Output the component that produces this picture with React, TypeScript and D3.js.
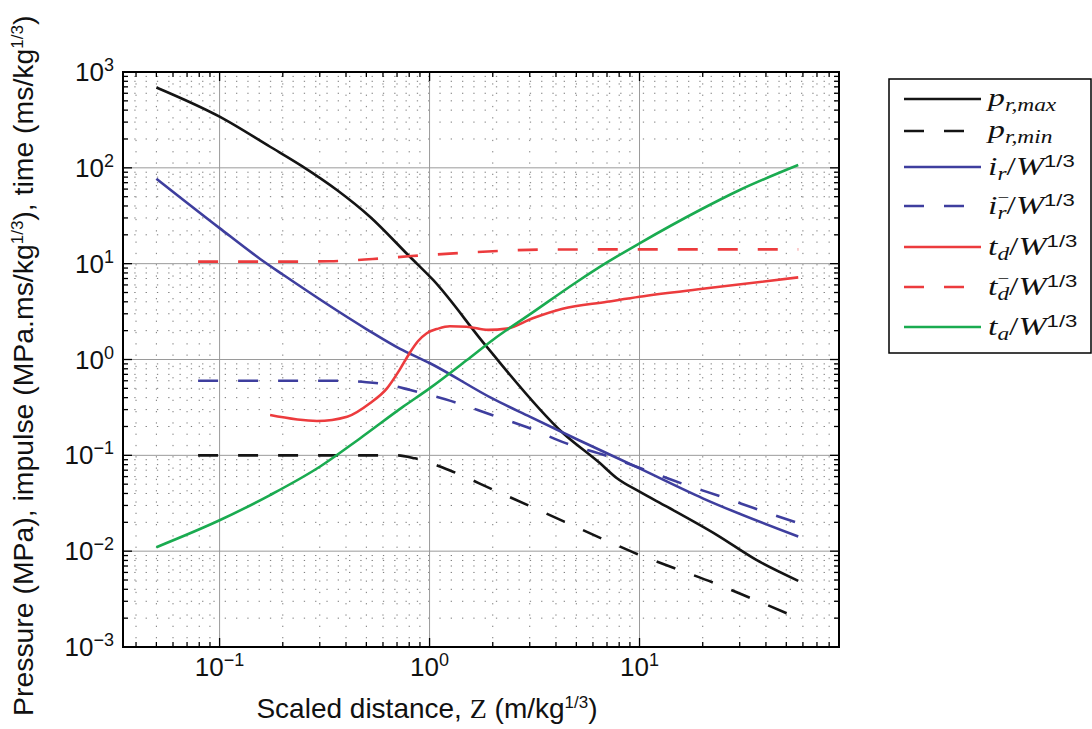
import React from "react";
import * as d3 from "d3";

// ---------- DATA (Z in m/kg^1/3, values) ----------
const pMax: [number, number][] = [
  [0.05, 690], [0.1, 342], [0.174, 166], [0.249, 103], [0.362, 58.7],
  [0.52, 30.9], [0.806, 11.8], [1.04, 6.76], [1.87, 1.36], [4.33, 0.17],
  [6.47, 0.083], [7.78, 0.058], [10, 0.0417], [13.5, 0.0291], [23.3, 0.0148], [36, 0.0081], [57, 0.0049],
];
const pMin: [number, number][] = [
  [0.079, 0.1], [0.2, 0.1], [0.4, 0.1], [0.7, 0.1], [0.85, 0.093], [1.26, 0.069], [2, 0.044],
  [3.5, 0.0254], [6.84, 0.0131], [9.8, 0.0093], [15.1, 0.0065], [22.4, 0.0047], [34.3, 0.0032], [57, 0.002],
];
const iR: [number, number][] = [
  [0.05, 77], [0.1, 23.5], [0.156, 11.2], [0.2, 7.7], [0.5, 2.08], [0.72, 1.3], [1, 0.92],
  [2, 0.39], [3, 0.253], [5, 0.148], [10, 0.073], [20, 0.0356], [57, 0.0142],
];
const iRneg: [number, number][] = [
  [0.079, 0.6], [0.2, 0.6], [0.35, 0.6], [0.5, 0.58], [0.65, 0.54], [0.81, 0.48], [1.26, 0.37],
  [1.92, 0.27], [2.92, 0.196], [4.45, 0.134], [6.84, 0.1], [16, 0.0506], [24.3, 0.0373], [36.9, 0.0271], [57, 0.0196],
];
const tD: [number, number][] = [
  [0.174, 0.263], [0.291, 0.228], [0.405, 0.253], [0.52, 0.35], [0.627, 0.5], [0.72, 0.78],
  [0.8, 1.15], [0.88, 1.55], [0.97, 1.88], [1.1, 2.1], [1.25, 2.22], [1.5, 2.2], [1.9, 2.04],
  [2.33, 2.1], [3.1, 2.69], [4.3, 3.38], [7, 4.0], [10, 4.52], [20.9, 5.53], [57, 7.2],
];
const tDneg: [number, number][] = [
  [0.079, 10.5], [0.2, 10.5], [0.335, 10.6], [0.537, 11.2], [0.82, 12.0], [1.3, 12.8],
  [2, 13.5], [3.3, 14.0], [10, 14.1], [57, 14.1],
];
const tA: [number, number][] = [
  [0.05, 0.011], [0.1, 0.021], [0.174, 0.0385], [0.3, 0.076], [0.466, 0.15], [0.746, 0.32],
  [1, 0.5], [1.5, 0.98], [2, 1.6], [3.1, 3.1], [5, 6.4], [7, 10.3], [10, 16.3],
  [19.4, 36.3], [30, 58.7], [57, 107],
];

const xExponents = [-1, 0, 1];
const yExponents = [-3, -2, -1, 0, 1, 2, 3];

const BLACK = "#141414";
const BLUE = "#3e3e9e";
const RED = "#ec3b3d";
const GREEN = "#1aab50";

type Series = {
  data: [number, number][];
  color: string;
  dashed: boolean;
  main: string;
  sub: string;
  minus: boolean;
  perW: boolean;
};

const series: Series[] = [
  { data: pMax, color: BLACK, dashed: false, main: "p", sub: "r,max", minus: false, perW: false },
  { data: pMin, color: BLACK, dashed: true, main: "p", sub: "r,min", minus: false, perW: false },
  { data: iR, color: BLUE, dashed: false, main: "i", sub: "r", minus: false, perW: true },
  { data: iRneg, color: BLUE, dashed: true, main: "i", sub: "r", minus: true, perW: true },
  { data: tD, color: RED, dashed: false, main: "t", sub: "d", minus: false, perW: true },
  { data: tDneg, color: RED, dashed: true, main: "t", sub: "d", minus: true, perW: true },
  { data: tA, color: GREEN, dashed: false, main: "t", sub: "a", minus: false, perW: true },
];

export default function App() {
  const W = 1092, H = 729;
  const left = 123, right = 839, top = 72, bottom = 647;
  const x = d3.scaleLog().domain([Math.pow(10, -1.46), Math.pow(10, 1.95)]).range([left, right]);
  const y = d3.scaleLog().domain([1e-3, 1e3]).range([bottom, top]);
  const [x0, x1] = x.domain();

  const line = d3
    .line<[number, number]>()
    .x((d) => x(d[0]))
    .y((d) => y(d[1]))
    .curve(d3.curveMonotoneX);

  const xMinor: number[] = [];
  for (let e = -2; e <= 1; e++) for (let k = 2; k <= 9; k++) {
    const v = k * Math.pow(10, e);
    if (v > x0 && v < x1) xMinor.push(v);
  }
  const yMinor: number[] = [];
  for (let e = -3; e <= 2; e++) for (let k = 2; k <= 9; k++) yMinor.push(k * Math.pow(10, e));

  const sans = "'Liberation Sans', Arial, Helvetica, sans-serif";
  const serif = "'Liberation Serif', 'Times New Roman', serif";

  const legendRows = [99, 131, 167, 206, 247, 287, 327];

  return (
    <svg width={W} height={H} style={{ position: "absolute", left: 0, top: 0, background: "#fff" }}>
      <rect x={0} y={0} width={W} height={H} fill="#fff" />
      {/* minor grid */}
      <g stroke="#7a7a7a" strokeWidth={1} strokeDasharray="1.3 10">
        {xMinor.map((v, i) => (
          <line key={"xm" + i} x1={x(v)} x2={x(v)} y1={top} y2={bottom} />
        ))}
        {yMinor.map((v, i) => (
          <line key={"ym" + i} x1={left} x2={right} y1={y(v)} y2={y(v)} />
        ))}
      </g>
      {/* major grid */}
      <g stroke="#9a9a9a" strokeWidth={1}>
        {xExponents.map((e) => (
          <line key={"xg" + e} x1={x(Math.pow(10, e))} x2={x(Math.pow(10, e))} y1={top} y2={bottom} />
        ))}
        {yExponents.map((e) => (
          <line key={"yg" + e} x1={left} x2={right} y1={y(Math.pow(10, e))} y2={y(Math.pow(10, e))} />
        ))}
      </g>
      {/* series */}
      {series.map((s, i) => (
        <path
          key={"s" + i}
          d={line(s.data) || ""}
          fill="none"
          stroke={s.color}
          strokeWidth={2.6}
          strokeDasharray={s.dashed ? "20 20" : undefined}
          strokeLinejoin="round"
        />
      ))}
      {/* ticks */}
      <g stroke="#000" strokeWidth={1.3}>
        {xExponents.map((e) => {
          const px = x(Math.pow(10, e));
          return (
            <g key={"xt" + e}>
              <line x1={px} x2={px} y1={bottom} y2={bottom - 9} />
              <line x1={px} x2={px} y1={top} y2={top + 9} />
            </g>
          );
        })}
        {xMinor.map((v, i) => (
          <g key={"xmt" + i}>
            <line x1={x(v)} x2={x(v)} y1={bottom} y2={bottom - 5} />
            <line x1={x(v)} x2={x(v)} y1={top} y2={top + 5} />
          </g>
        ))}
        {yExponents.map((e) => {
          const py = y(Math.pow(10, e));
          return (
            <g key={"yt" + e}>
              <line x1={left} x2={left + 9} y1={py} y2={py} />
              <line x1={right} x2={right - 9} y1={py} y2={py} />
            </g>
          );
        })}
        {yMinor.map((v, i) => (
          <g key={"ymt" + i}>
            <line x1={left} x2={left + 5} y1={y(v)} y2={y(v)} />
            <line x1={right} x2={right - 5} y1={y(v)} y2={y(v)} />
          </g>
        ))}
      </g>
      {/* frame */}
      <rect x={left} y={top} width={right - left} height={bottom - top} fill="none" stroke="#000" strokeWidth={2} />
      {/* tick labels */}
      <g fontFamily={sans} fill="#111">
        {xExponents.map((e) => (
          <text key={"xl" + e} x={x(Math.pow(10, e))} y={676} textAnchor="middle" fontSize={26}>
            10
            <tspan fontSize={18} dy={-10}>{e < 0 ? "\u2212" + Math.abs(e) : String(e)}</tspan>
          </text>
        ))}
        {yExponents.map((e) => (
          <text key={"yl" + e} x={114} y={y(Math.pow(10, e)) + 9} textAnchor="end" fontSize={26}>
            10
            <tspan fontSize={18} dy={-10}>{e < 0 ? "\u2212" + Math.abs(e) : String(e)}</tspan>
          </text>
        ))}
      </g>
      {/* axis labels */}
      <text x={427} y={718} textAnchor="middle" fontFamily={sans} fontSize={28} fill="#111">
        Scaled distance, <tspan fontFamily={serif}>Z</tspan> (m/kg
        <tspan fontSize={17} dy={-10}>1/3</tspan>
        <tspan dy={10}>)</tspan>
      </text>
      <text
        transform="translate(33,716) rotate(-90)"
        textAnchor="start"
        fontFamily={sans}
        fontSize={28.4}
        fill="#111"
      >
        Pressure (MPa), impulse (MPa.ms/kg<tspan fontSize={17} dy={-10}>1/3</tspan>
        <tspan dy={10}>), time (ms/kg</tspan>
        <tspan fontSize={17} dy={-10}>1/3</tspan>
        <tspan dy={10}>)</tspan>
      </text>
      {/* legend */}
      <rect x={889} y={79} width={202} height={274} fill="#fff" stroke="#000" strokeWidth={1.5} />
      {series.map((s, i) => {
        const ly = legendRows[i];
        const base = ly + (s.perW ? 8 : 7);
        return (
          <g key={"lg" + i}>
            <line
              x1={904}
              x2={981}
              y1={ly}
              y2={ly}
              stroke={s.color}
              strokeWidth={2.6}
              strokeDasharray={s.dashed ? "20 20" : undefined}
            />
            <g transform={`translate(988,${base}) scale(1.3,1)`}>
              <text x={0} y={0} fontFamily={serif} fontSize={26} fontStyle="italic" fill="#111">
                {s.main}
                {s.minus ? (
                  <>
                    <tspan fontSize={16} fontStyle="normal" dy={-11}>{"\u2212"}</tspan>
                    <tspan fontSize={18} dx={-9} dy={16}>{s.sub}</tspan>
                  </>
                ) : (
                  <tspan fontSize={18} dy={5}>{s.sub}</tspan>
                )}
                {s.perW ? (
                  <>
                    <tspan fontStyle="normal" dy={-5}>/</tspan>
                    <tspan>W</tspan>
                    <tspan fontFamily={sans} fontStyle="normal" fontSize={17} dy={-8}>1/3</tspan>
                  </>
                ) : null}
              </text>
            </g>
          </g>
        );
      })}
    </svg>
  );
}
